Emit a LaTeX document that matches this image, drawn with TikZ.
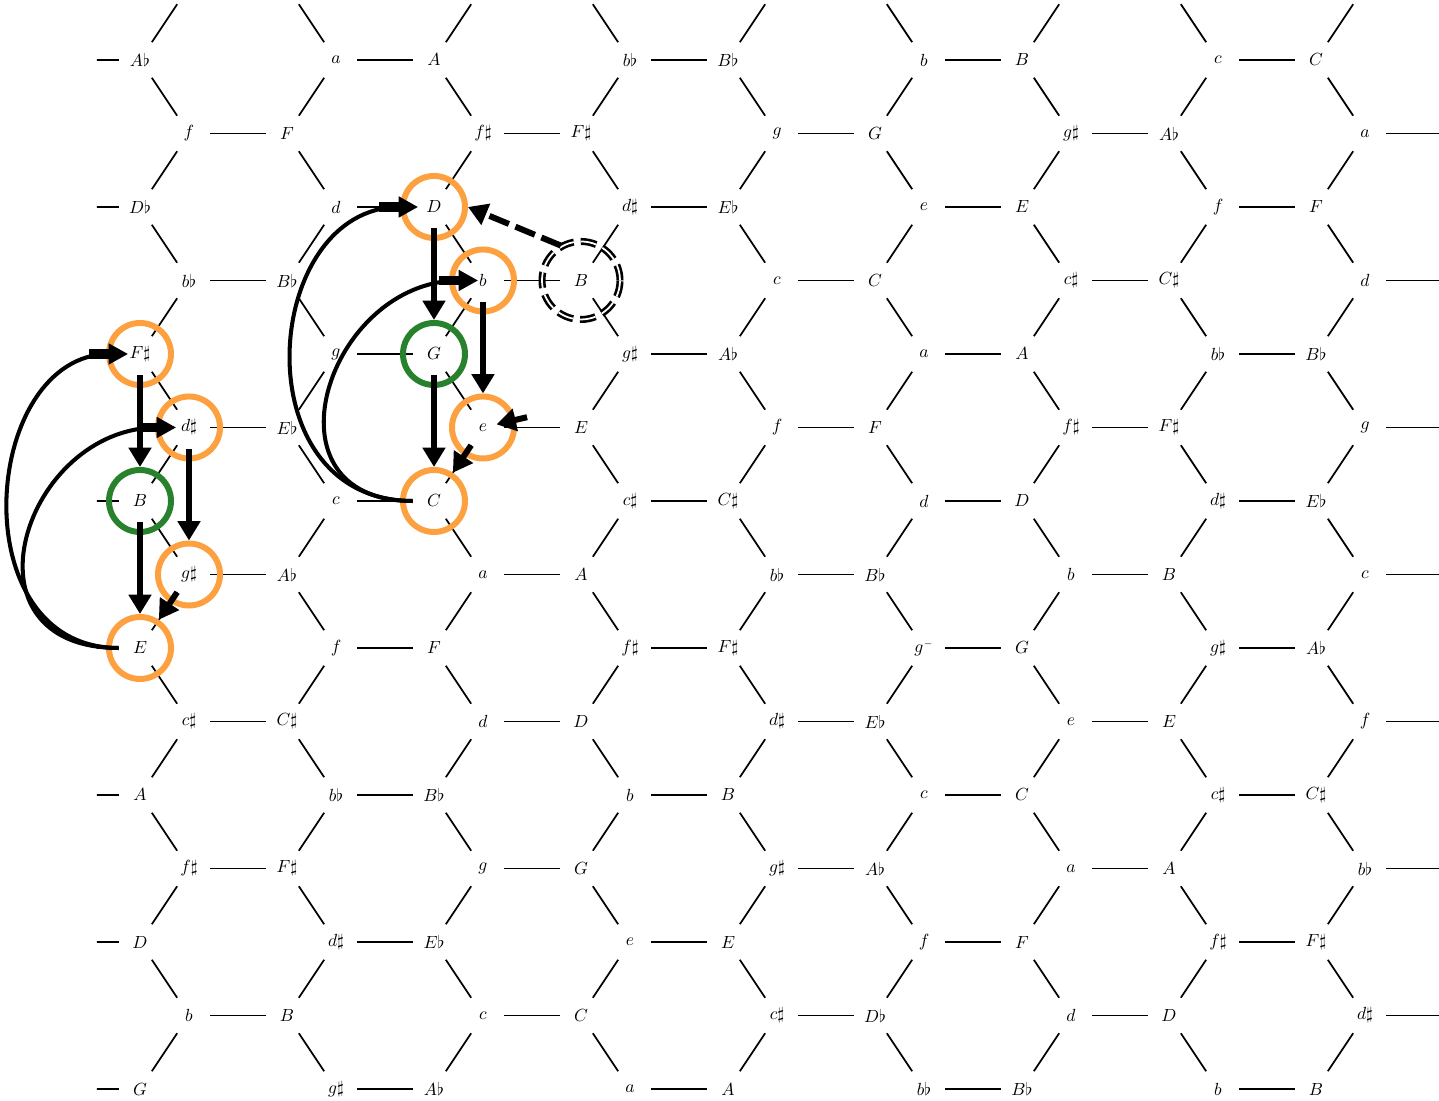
\documentclass[tikz,border=0pt]{standalone}
\definecolor{ringorange}{RGB}{252,160,64}
\definecolor{ringgreen}{RGB}{40,130,45}
\usetikzlibrary{arrows.meta,calc}

\begin{document}
\begin{tikzpicture}[x=0.98cm, y=-1.47cm,
  chord/.style={circle, minimum size=0.84cm, inner sep=0pt},
  link/.style={line width=1pt},
  ring/.style={circle, draw=ringorange, line width=3.4pt, minimum size=1.24cm, inner sep=0pt},
  goal/.style={ring, draw=ringgreen},
  ghost/.style={circle, draw=black, double=white, line width=1.5pt, double distance=1pt, dash pattern=on 9pt off 4pt, minimum size=1.56cm, inner sep=0pt},
  move/.style={line width=3.4pt, -{Triangle[length=11pt,width=12.5pt]}},
  hint/.style={move, dash pattern=on 12pt off 4pt},
  swing/.style={line width=2.3pt, -{Rectangle[length=11pt,width=5.5pt]Triangle[length=11pt,width=11.5pt]}}]
  \useasboundingbox (-2.857,-0.816) rectangle (26.51,14.15);
  \begin{scope}
    \clip (-0.878,-0.816) rectangle (26.51,14.15);
    % chords, minor/major pairs per row
    \foreach \row/\pairs in {
        -1/{{}/{},{}/{},{}/{},{}/{},{}/{}},
        0/{{}/A\flat,a/A,b\flat/B\flat,b/B,c/C},
        1/{f/F,f\sharp/F\sharp,g/G,g\sharp/A\flat,a/{}},
        2/{{}/D\flat,d/D,d\sharp/E\flat,e/E,f/F},
        3/{b\flat/B\flat,b/B,c/C,c\sharp/C\sharp,d/{}},
        4/{{}/F\sharp,g/G,g\sharp/A\flat,a/A,b\flat/B\flat},
        5/{d\sharp/E\flat,e/E,f/F,f\sharp/F\sharp,g/{}},
        6/{{}/B,c/C,c\sharp/C\sharp,d/D,d\sharp/E\flat},
        7/{g\sharp/A\flat,a/A,b\flat/B\flat,b/B,c/{}},
        8/{{}/E,f/F,f\sharp/F\sharp,g^{\scriptscriptstyle-}/G,g\sharp/A\flat},
        9/{c\sharp/C\sharp,d/D,d\sharp/E\flat,e/E,f/{}},
        10/{{}/A,b\flat/B\flat,b/B,c/C,c\sharp/C\sharp},
        11/{f\sharp/F\sharp,g/G,g\sharp/A\flat,a/A,b\flat/{}},
        12/{{}/D,d\sharp/E\flat,e/E,f/F,f\sharp/F\sharp},
        13/{b/B,c/C,c\sharp/D\flat,d/D,d\sharp/{}},
        14/{{}/G,g\sharp/A\flat,a/A,b\flat/B\flat,b/B}}{
      \pgfmathtruncatemacro\R{\row+1}
      \pgfmathtruncatemacro\odd{mod(\row+2,2)}
      \foreach \lo/\up [count=\pair from 0] in \pairs{
        \pgfmathtruncatemacro\col{6*\pair-2+3*\odd}
        \node[chord] (l\pair-\R) at (\col,\row) {$\lo{}$};
        \node[chord] (u\pair-\R) at (\col+2,\row) {$\up{}$};
      }
    }
    % diagonal links, row to row below
    \foreach \row in {-1,...,13}{
      \pgfmathtruncatemacro\R{\row+1}
      \pgfmathtruncatemacro\S{\row+2}
      \ifodd\row
        \foreach \pair in {0,...,3}{
          \pgfmathtruncatemacro\nb{\pair+1}
          \draw[link] (u\pair-\R) -- (l\nb-\S);
        }
        \foreach \pair in {0,...,4}
          \draw[link] (l\pair-\R) -- (u\pair-\S);
      \else
        \foreach \pair in {0,...,4}
          \draw[link] (u\pair-\R) -- (l\pair-\S);
        \foreach \pair in {1,...,4}{
          \pgfmathtruncatemacro\pb{\pair-1}
          \draw[link] (l\pair-\R) -- (u\pb-\S);
        }
      \fi
    }
    % parallel links
    \foreach \row in {0,...,14}{
      \pgfmathtruncatemacro\R{\row+1}
      \foreach \pair in {0,...,4}
        \draw[link] (l\pair-\R) -- (u\pair-\R);
    }
  \end{scope}
  % marked chords
  \node[ring] (dMaj) at (u1-3) {};
  \node[ring] (bMin) at (l1-4) {};
  \node[goal] (gMaj) at (u1-5) {};
  \node[ring] (eMin) at (l1-6) {};
  \node[ring] (cMaj) at (u1-7) {};
  \node[ghost] (bGhost) at (u1-4) {};
  \node[ring] (fsMaj) at (u0-5) {};
  \node[ring] (dsMin) at (l0-6) {};
  \node[goal] (bMaj) at (u0-7) {};
  \node[ring] (gsMin) at (l0-8) {};
  \node[ring] (eMaj) at (u0-9) {};
  % moves
  \draw[move] (u1-3) -- (gMaj);
  \draw[move] (l1-4) -- (eMin);
  \draw[move] (u1-5) -- (cMaj);
  \draw[move] (l1-6) -- (cMaj);
  \draw[move] (u0-5) -- (bMaj);
  \draw[move] (l0-6) -- (gsMin);
  \draw[move] (u0-7) -- (eMaj);
  \draw[move] (l0-8) -- (eMaj);
  \draw[hint] (bGhost.120) -- (dMaj.east);
  \coordinate (eCue) at (7.9,4.86);
  \draw[hint, shorten >=-0.15cm] (eCue) -- (l1-6);
  % returns
  \draw[swing, shorten >=0.32cm] (u1-7.west) to[out=180, in=180, looseness=1.5] (u1-3.center);
  \draw[swing, shorten >=0.1cm] (u1-7.west) to[out=180, in=180, looseness=1.72] (l1-4.center);
  \draw[swing, shorten >=0.24cm] (u0-9.west) to[out=180, in=180, looseness=1.38] (u0-5.center);
  \draw[swing, shorten >=0.26cm] (u0-9.west) to[out=180, in=180, looseness=1.82] (l0-6.center);
\end{tikzpicture}
\end{document}
